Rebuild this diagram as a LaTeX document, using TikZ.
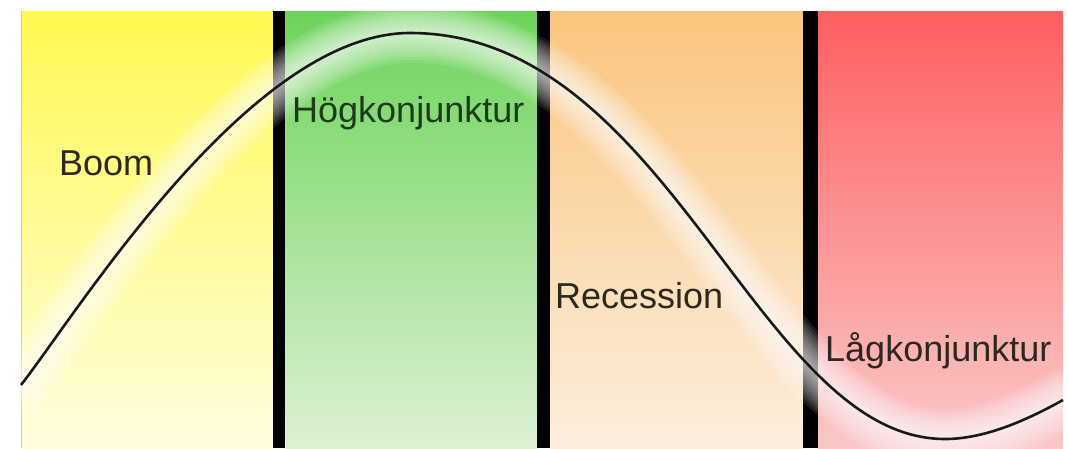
\documentclass[tikz,border=0pt]{standalone}
\usepackage{fontspec}
\setmainfont{Liberation Sans}
\usepackage{tikz}
\definecolor{boomTop}{RGB}{255, 249, 80}
\definecolor{boomMid}{RGB}{255, 251, 160}
\definecolor{boomLow}{RGB}{255, 253, 222}
\definecolor{highTop}{RGB}{108, 212, 90}
\definecolor{highMid}{RGB}{165, 228, 145}
\definecolor{highLow}{RGB}{222, 241, 212}
\definecolor{recTop}{RGB}{250, 198, 125}
\definecolor{recMid}{RGB}{251, 220, 172}
\definecolor{recLow}{RGB}{252, 238, 222}
\definecolor{lowTop}{RGB}{255, 95, 95}
\definecolor{lowMid}{RGB}{252, 145, 145}
\definecolor{lowLow}{RGB}{250, 200, 200}
\definecolor{textDark}{RGB}{45, 40, 30}
\definecolor{textGreen}{RGB}{28, 60, 25}

\begin{document}
\begin{tikzpicture}[x=1pt, y=-1pt,
    phase/.style={anchor=base west, inner sep=0pt, text=textDark,
      font=\fontsize{36}{42}\selectfont}]
      \useasboundingbox (0,0) rectangle (1068,448);

      \shade[top color=boomTop, middle color=boomMid, bottom color=boomLow] (21,11) rectangle (273,448);
      \shade[top color=highTop, middle color=highMid, bottom color=highLow] (285,11) rectangle (537,448);
      \shade[top color=recTop, middle color=recMid, bottom color=recLow] (550,11) rectangle (803,448);
      \shade[top color=lowTop, middle color=lowMid, bottom color=lowLow] (818,11) rectangle (1063,448);
      \draw[olive!40, line width=1] (21,11) -- (21,448);

      \fill[black] (273,11) rectangle (285,448);
      \fill[black] (537,11) rectangle (550,448);
      \fill[black] (803,11) rectangle (818,448);

      \coordinate (start) at (21,385);
      \coordinate (peak) at (410,33);
      \coordinate (trough) at (945,439);
      \coordinate (finish) at (1063,400);

      % soft white glow round the curve
      \foreach \w in {60,54,48,42,36,30,24,18,12,6}
        \draw[white, opacity=.1, line width=\w, line cap=round]
          (start) .. controls (78,312) and (250,33) .. (peak)
          .. controls (670,33) and (757,439) .. (trough)
          .. controls (985,439) and (1027,420) .. (finish);

      \draw[black!90, line width=2.6]
        (start) .. controls (78,312) and (250,33) .. (peak)
        .. controls (670,33) and (757,439) .. (trough)
        .. controls (985,439) and (1027,420) .. (finish);

      \node[phase] (boom) at (59,175) {Boom};
      \node[phase, text=textGreen] (hog) at (292,122) {Högkonjunktur};
      \node[phase] (rec) at (555,308) {Recession};
      \node[phase] (lag) at (825,361) {Lågkonjunktur};
    \end{tikzpicture}
\end{document}
